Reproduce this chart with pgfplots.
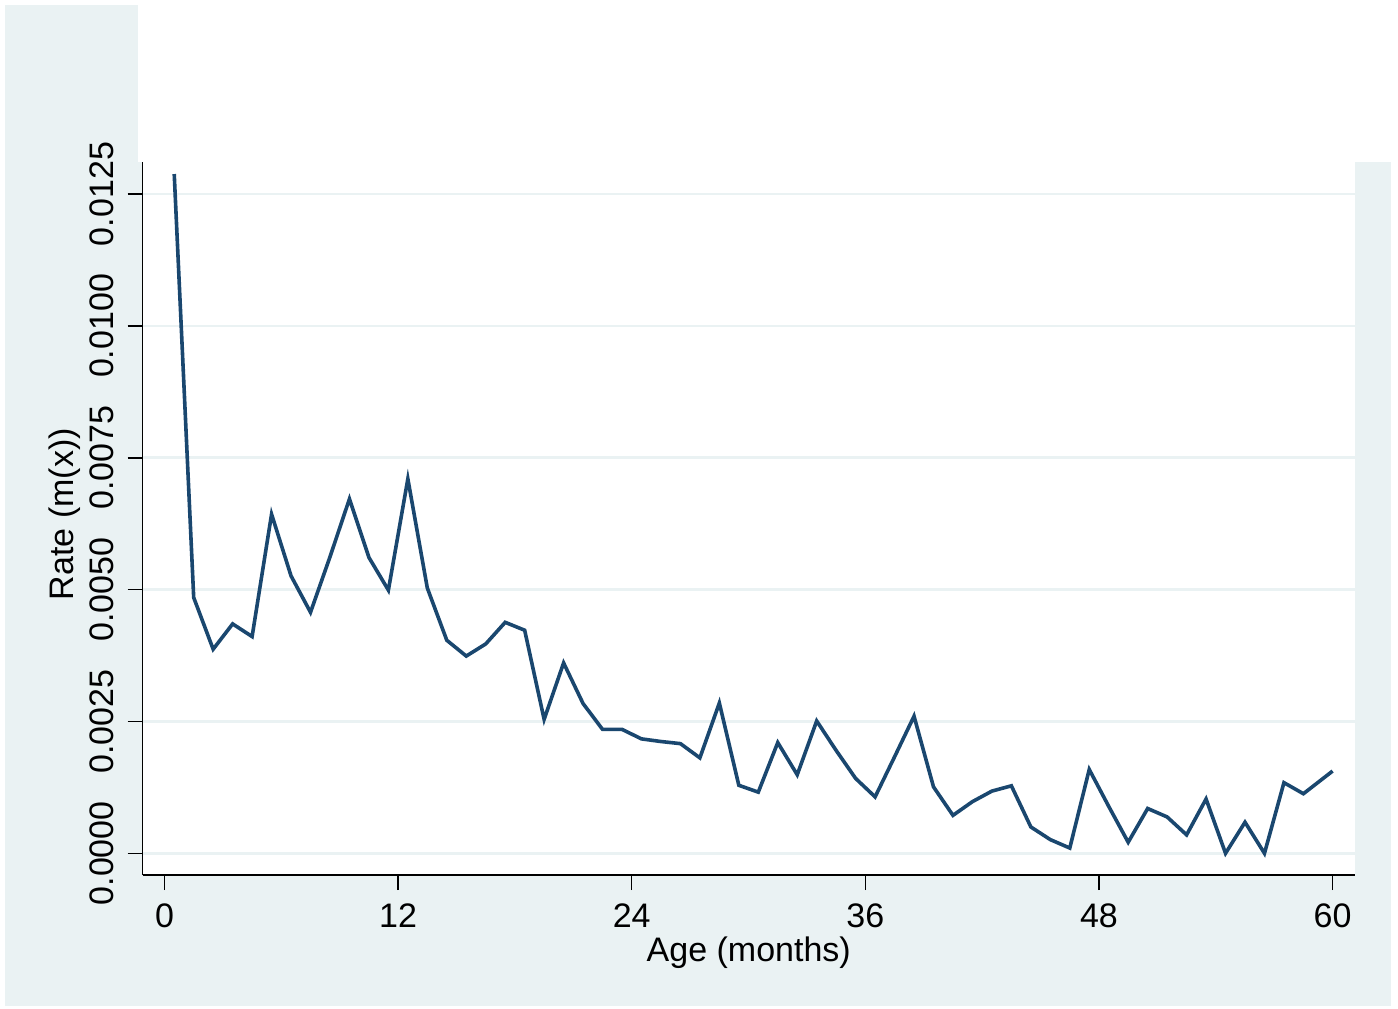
\documentclass[border=0pt]{standalone}
\usepackage{pgfplots}
\pgfplotsset{compat=1.18}
\usepackage{fontspec}
\setmainfont{Liberation Sans}
\definecolor{bgc}{HTML}{EAF2F3}
\definecolor{navy}{HTML}{1A476F}
\pgfplotstableread{
x y
0.5 0.01288
1.5 0.00485
2.5 0.00387
3.5 0.00435
4.5 0.00411
5.5 0.00643
6.5 0.00526
7.5 0.00457
8.5 0.00562
9.5 0.00672
10.5 0.00561
11.5 0.00499
12.5 0.00710
13.5 0.00503
14.5 0.00404
15.5 0.00374
16.5 0.00397
17.5 0.00438
18.5 0.00423
19.5 0.00254
20.5 0.00361
21.5 0.00284
22.5 0.00235
23.5 0.00235
24.5 0.00217
25.5 0.00212
26.5 0.00208
27.5 0.00181
28.5 0.00285
29.5 0.00129
30.5 0.00116
31.5 0.00210
32.5 0.00149
33.5 0.00251
34.5 0.00195
35.5 0.00142
36.5 0.00107
37.5 0.00183
38.5 0.00260
39.5 0.00126
40.5 0.00072
41.5 0.00098
42.5 0.00118
43.5 0.00128
44.5 0.00050
45.5 0.00026
46.5 0.00010
47.5 0.00159
48.5 0.00089
49.5 0.00021
50.5 0.00085
51.5 0.00069
52.5 0.00035
53.5 0.00103
54.5 0.00000
55.5 0.00059
56.5 0.00000
57.5 0.00134
58.5 0.00113
60 0.00156
}\rates
\begin{document}
\fontsize{17pt}{20pt}\selectfont
\begin{tikzpicture}
\useasboundingbox[fill=white] (-71.25pt,-66.5pt) rectangle (627.75pt,437.5pt);
\fill[bgc] (-68.75pt,-65.5pt) rectangle (624.25pt,435pt);
\fill[white] (-2.25pt,356.5pt) rectangle (624.25pt,435pt);
\begin{axis}[
  at={(0pt,0pt)}, anchor=south west,
  scale only axis, width=606.25pt, height=356.5pt,
  xmin=-1.13, xmax=61.15, ymin=-0.000411, ymax=0.013108,
  axis lines*=left,
  axis line style={-, line width=0.75pt, black},
  axis background/.style={fill=white},
  tick align=outside, xtick pos=left, ytick pos=left,
  major tick length=7.5pt,
  tick style={line width=0.75pt, black},
  ymajorgrids, grid style={bgc, line width=1.35pt},
  xtick={0,12,24,36,48,60},
  xticklabels={0,12,24,36,48,60},
  ytick={0,0.0025,0.005,0.0075,0.01,0.0125},
  yticklabels={0.0000,0.0025,0.0050,0.0075,0.0100,0.0125},
  scaled y ticks=false, scaled x ticks=false,
  every tick label/.append style={font=\fontsize{17pt}{20pt}\selectfont, inner sep=0pt},
  xticklabel style={yshift=-6.5pt, anchor=north},
  yticklabel style={xshift=-6.5pt, rotate=90, anchor=south},
  xlabel={Age (months)},
  ylabel={Rate (m(x))},
  label style={font=\fontsize{17pt}{20pt}\selectfont, inner sep=0pt},
  xlabel style={at={(axis description cs:0.5,-0.122)}, anchor=base},
  ylabel style={at={(axis description cs:-0.0569,0.506)}, anchor=base},
]
\addplot[navy, line width=1.8pt, mark=none] table[x=x,y=y] {\rates};
\end{axis}
\end{tikzpicture}
\end{document}
